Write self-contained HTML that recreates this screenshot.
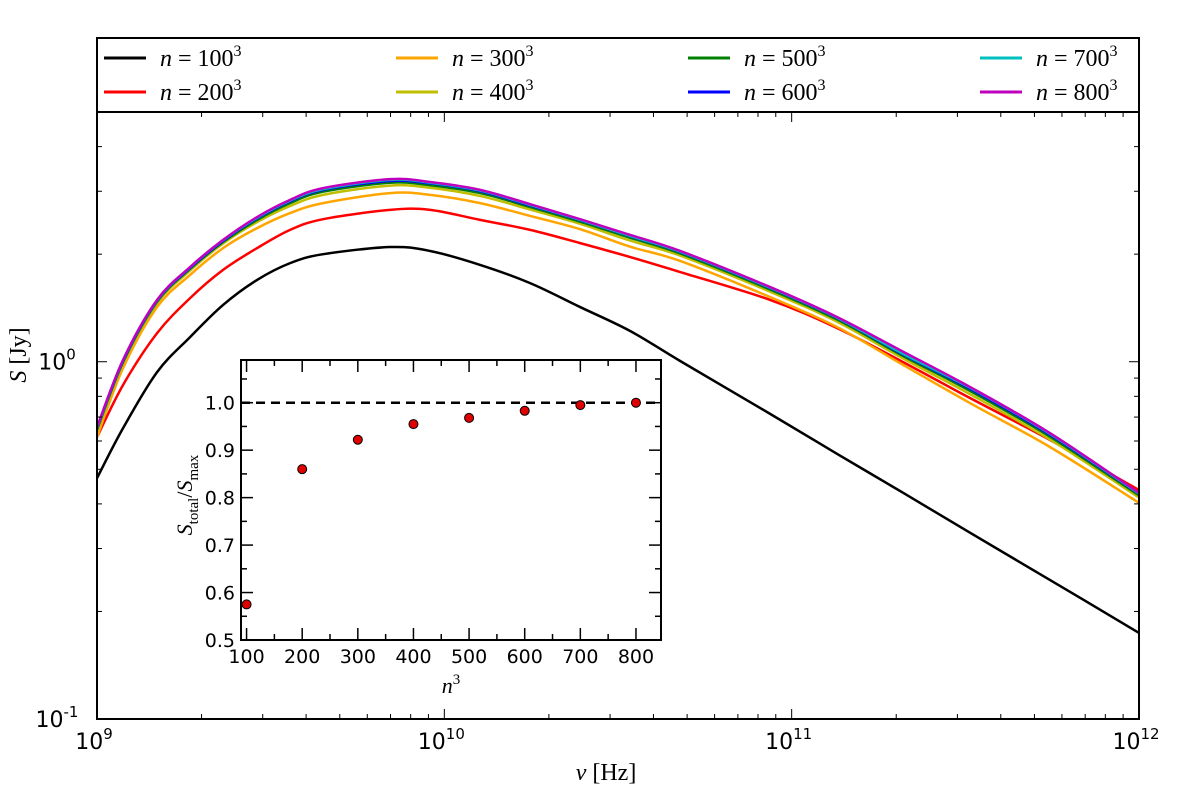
<!DOCTYPE html>
<html><head><meta charset="utf-8"><style>
body{margin:0;background:#fff;}
svg text{font-family:"DejaVu Sans","Liberation Sans",sans-serif;}
.serif{font-family:"Liberation Serif","DejaVu Serif",serif;}
</style></head><body>
<svg id="chart" width="1200" height="802" xmlns="http://www.w3.org/2000/svg">
<rect width="1200" height="802" fill="#fff"/>
<g id="main"></g>
<g id="inset"></g>
<g id="legend"></g>
</svg>
<script>
const logNu = [9.000, 9.075, 9.173, 9.268, 9.363, 9.461, 9.556, 9.651, 9.844, 9.959, 10.103, 10.247, 10.391, 10.535, 10.679, 10.938, 11.131, 11.321, 11.514, 11.744, 12.000];
const seriesNames = ["n=100", "n=200", "n=300", "n=400", "n=500", "n=600", "n=700", "n=800"];
const s100 = [-0.326, -0.186, -0.029, 0.069, 0.159, 0.229, 0.276, 0.301, 0.321, 0.310, 0.271, 0.220, 0.153, 0.086, 0.002, -0.146, -0.258, -0.367, -0.479, -0.611, -0.759];
const s200 = [-0.211, -0.065, 0.080, 0.178, 0.257, 0.318, 0.369, 0.399, 0.425, 0.425, 0.397, 0.369, 0.332, 0.293, 0.251, 0.173, 0.094, -0.001, -0.102, -0.219, -0.359];
const s300 = [-0.211, -0.018, 0.153, 0.243, 0.318, 0.374, 0.416, 0.444, 0.472, 0.467, 0.444, 0.408, 0.371, 0.322, 0.282, 0.181, 0.097, -0.009, -0.116, -0.239, -0.395];
const s400 = [-0.196, -0.005, 0.164, 0.255, 0.331, 0.391, 0.436, 0.467, 0.493, 0.487, 0.464, 0.426, 0.386, 0.339, 0.297, 0.196, 0.112, 0.009, -0.091, -0.218, -0.380];
const s500 = [-0.190, -0.001, 0.168, 0.260, 0.335, 0.397, 0.444, 0.476, 0.501, 0.494, 0.472, 0.433, 0.392, 0.347, 0.303, 0.202, 0.118, 0.016, -0.082, -0.210, -0.374];
const s600 = [-0.186, 0.002, 0.171, 0.262, 0.338, 0.401, 0.449, 0.481, 0.506, 0.499, 0.477, 0.437, 0.396, 0.351, 0.307, 0.206, 0.122, 0.020, -0.076, -0.205, -0.370];
const s700 = [-0.185, 0.004, 0.172, 0.264, 0.340, 0.403, 0.451, 0.483, 0.509, 0.501, 0.479, 0.439, 0.397, 0.352, 0.308, 0.207, 0.123, 0.022, -0.073, -0.202, -0.369];
const s800 = [-0.183, 0.005, 0.173, 0.265, 0.341, 0.405, 0.453, 0.486, 0.511, 0.503, 0.481, 0.441, 0.399, 0.355, 0.310, 0.209, 0.125, 0.028, -0.071, -0.200, -0.367];
const insetN = [100, 200, 300, 400, 500, 600, 700, 800];
const insetRatio = [0.575, 0.86, 0.922, 0.955, 0.968, 0.983, 0.995, 1.0];
const insetXTicks = [100, 200, 300, 400, 500, 600, 700, 800];
const insetYTicks = [0.5, 0.6, 0.7, 0.8, 0.9, 1.0];

const NS = "http://www.w3.org/2000/svg";
function mk(parent, tag, attrs, text){const e=document.createElementNS(NS,tag);for(const k in attrs)e.setAttribute(k,attrs[k]);if(text!==undefined)e.textContent=text;parent.appendChild(e);return e;}

const L=97,R=1139,T=112,B=719;
const X=v=>L+(v-9)*(R-L)/3;
const Y=v=>B-(v-(-1))*(B-T)/(Math.log10(5)+1);
const main=document.getElementById('main');
const colors=["#000000","#ff0000","#ffa500","#bfbf00","#008000","#0000ff","#00bfbf","#bf00bf"];
const allS=[s100,s200,s300,s400,s500,s600,s700,s800];
function smooth(pts){let d=`M${pts[0][0]},${pts[0][1]}`;for(let i=0;i<pts.length-1;i++){const p0=pts[Math.max(0,i-1)],p1=pts[i],p2=pts[i+1],p3=pts[Math.min(pts.length-1,i+2)];const c1=[p1[0]+(p2[0]-p0[0])/6,p1[1]+(p2[1]-p0[1])/6],c2=[p2[0]-(p3[0]-p1[0])/6,p2[1]-(p3[1]-p1[1])/6];d+=`C${c1[0]},${c1[1]} ${c2[0]},${c2[1]} ${p2[0]},${p2[1]}`;}return d;}
const clip=mk(main,'clipPath',{id:'mclip'});mk(clip,'rect',{x:L,y:T,width:R-L,height:B-T});
allS.forEach((s,i)=>{const p=mk(main,'path',{d:smooth(logNu.map((l,j)=>[X(l),Y(s[j])])),fill:'none',stroke:colors[i],'stroke-width':2.5,'clip-path':'url(#mclip)'});

});
mk(main,'rect',{x:L,y:T,width:R-L,height:B-T,fill:'none',stroke:'#000','stroke-width':2,});
for(let d=9;d<=12;d++){for(let m=1;m<=9;m++){const v=d+Math.log10(m);if(v>12.0001)break;const x=X(v);const len=m===1?10:5;
mk(main,'line',{x1:x,y1:B,x2:x,y2:B-len,stroke:'#000','stroke-width':1});mk(main,'line',{x1:x,y1:T,x2:x,y2:T+len,stroke:'#000','stroke-width':1});}
const t=mk(main,'text',{x:X(d)-3,y:B+30,'font-size':22,'text-anchor':'middle',},'10');
mk(t,'tspan',{dy:-10,'font-size':15},String(d));}
const yt=[[-1,'-1'],[0,'0']];
for(let d=-1;d<=0;d++){for(let m=1;m<=9;m++){const v=d+Math.log10(m);if(v>Math.log10(5)+0.0001)break;const y=Y(v);const len=m===1?10:5;
mk(main,'line',{x1:L,y1:y,x2:L+len,y2:y,stroke:'#000'});mk(main,'line',{x1:R,y1:y,x2:R-len,y2:y,stroke:'#000'});}}
yt.forEach(([v,s])=>{const t=mk(main,'text',{x:L-40,y:Y(v)+8,'font-size':22,'text-anchor':'middle',},'10');mk(t,'tspan',{dy:-10,'font-size':15},s);});
mk(main,'text',{x:606,y:780,'font-size':24,'text-anchor':'middle',class:'serif',},'').innerHTML='<tspan font-style="italic">ν</tspan> [Hz]';
mk(main,'text',{x:0,y:0,'font-size':24,'text-anchor':'middle',class:'serif',transform:'translate(26,355) rotate(-90)',}).innerHTML='<tspan font-style="italic">S</tspan> [Jy]';

const lg=document.getElementById('legend');
mk(lg,'rect',{x:97,y:38,width:1042,height:74,fill:'#fff',stroke:'#000','stroke-width':2});
seriesNames.forEach((n,i)=>{const col=Math.floor(i/2),row=i%2;const x0=104+col*292,y0=58+row*34;
const g=mk(lg,'g',{});
mk(g,'line',{x1:x0,y1:y0,x2:x0+42,y2:y0,stroke:colors[i],'stroke-width':3});
const t=mk(g,'text',{x:x0+56,y:y0+8,'font-size':24,class:'serif'});t.innerHTML='<tspan font-style="italic">n</tspan> = '+n.split('=')[1]+'<tspan dy="-10" font-size="16">3</tspan>';});

const iL=241,iR=661,iT=360,iB=640;
const IX=v=>iL+(v-90)*(iR-iL)/(845-90);
const IY=v=>iB-(v-0.5)*(iB-iT)/(1.09-0.5);
const ins=document.getElementById('inset');
mk(ins,'rect',{x:iL,y:iT,width:iR-iL,height:iB-iT,fill:'#fff',stroke:'none'});
for(let v=100;v<=800;v+=50){const x=IX(v);const len=v%100===0?12:6;mk(ins,'line',{x1:x,y1:iB,x2:x,y2:iB-len,stroke:'#000','stroke-width':1.5});mk(ins,'line',{x1:x,y1:iT,x2:x,y2:iT+len,stroke:'#000','stroke-width':1.5});}
for(let k=0;k<=11;k++){const v=0.5+k*0.05;const y=IY(v);const len=k%2===0?12:6;mk(ins,'line',{x1:iL,y1:y,x2:iL+len,y2:y,stroke:'#000','stroke-width':1.5});mk(ins,'line',{x1:iR,y1:y,x2:iR-len,y2:y,stroke:'#000','stroke-width':1.5});}
insetXTicks.forEach(v=>{const t=mk(ins,'text',{x:IX(v),y:iB+23,'font-size':19,'text-anchor':'middle'},String(v));});
insetYTicks.forEach(v=>{const t=mk(ins,'text',{x:iL-6,y:IY(v)+7,'font-size':19,'text-anchor':'end'},v.toFixed(1));});
mk(ins,'line',{x1:iL,y1:IY(1.0),x2:iR,y2:IY(1.0),stroke:'#000','stroke-width':2.5,'stroke-dasharray':'9,6',});
insetN.forEach((n,i)=>{const c=mk(ins,'circle',{cx:IX(n),cy:IY(insetRatio[i]),r:4.5,fill:'#e00000',stroke:'#000','stroke-width':1});});
mk(ins,'rect',{x:iL,y:iT,width:iR-iL,height:iB-iT,fill:'none',stroke:'#000','stroke-width':2,});
mk(ins,'text',{x:451,y:693,'font-size':22,'text-anchor':'middle',class:'serif',}).innerHTML='<tspan font-style="italic">n</tspan><tspan dy="-9" font-size="15">3</tspan>';
mk(ins,'text',{x:0,y:0,'font-size':22,'text-anchor':'middle',class:'serif',transform:'translate(192,495) rotate(-90)',}).innerHTML='<tspan font-style="italic">S</tspan><tspan dy="6" font-size="15">total</tspan><tspan dy="-6">/</tspan><tspan font-style="italic">S</tspan><tspan dy="6" font-size="15">max</tspan>';
</script>
</body></html>
